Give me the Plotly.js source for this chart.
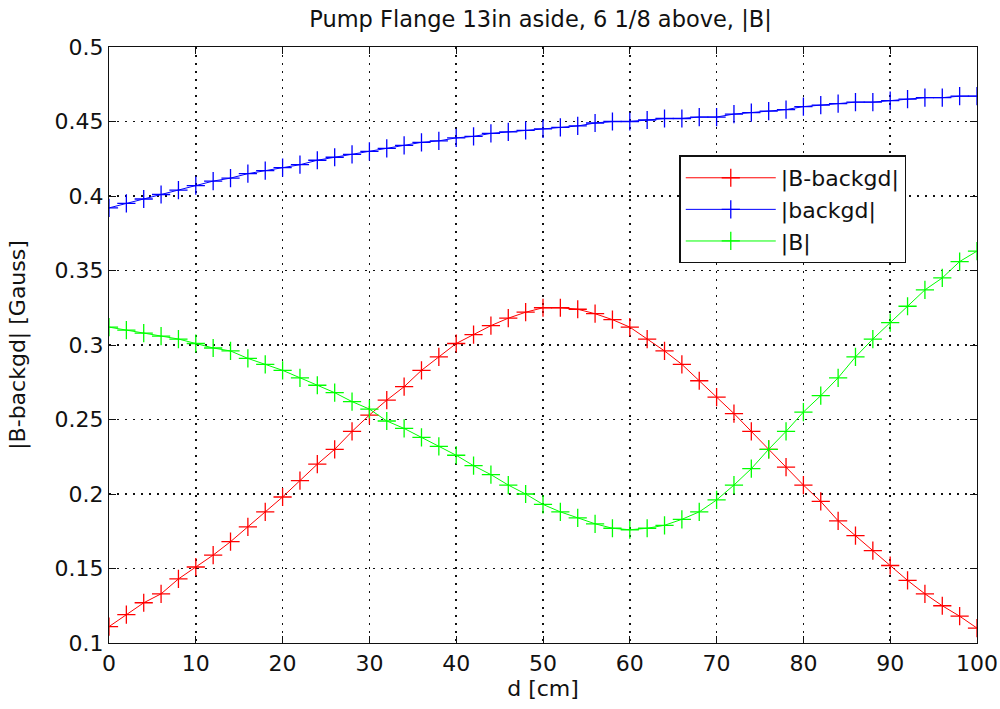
<!DOCTYPE html>
<html>
<head>
<meta charset="utf-8">
<script src="https://cdn.plot.ly/plotly-3.0.1.min.js"></script>
<style>html,body{margin:0;padding:0;background:#fff;}#chart{width:1000px;height:709px;}</style>
</head>
<body>
<div id="chart"></div>
<script>
const distanceCm = [0,2,4,6,8,10,12,14,16,18,20,22,24,26,28,30,32,34,36,38,40,42,44,46,48,50,52,54,56,58,60,62,64,66,68,70,72,74,76,78,80,82,84,86,88,90,92,94,96,98,100];
const bMinusBackgd = [0.111,0.119,0.127,0.133,0.143,0.151,0.159,0.168,0.178,0.188,0.198,0.209,0.220,0.230,0.242,0.253,0.263,0.272,0.283,0.292,0.301,0.307,0.313,0.318,0.322,0.325,0.325,0.324,0.321,0.317,0.312,0.304,0.296,0.287,0.276,0.265,0.254,0.242,0.230,0.218,0.206,0.195,0.182,0.172,0.162,0.152,0.142,0.133,0.125,0.118,0.110];
const backgd = [0.392,0.395,0.398,0.401,0.404,0.407,0.410,0.412,0.415,0.417,0.419,0.421,0.424,0.426,0.428,0.430,0.432,0.434,0.436,0.437,0.439,0.440,0.442,0.443,0.444,0.445,0.446,0.447,0.449,0.450,0.450,0.451,0.452,0.452,0.453,0.453,0.455,0.456,0.457,0.458,0.460,0.461,0.462,0.463,0.463,0.464,0.465,0.466,0.466,0.467,0.467];
const bTotal = [0.312,0.310,0.308,0.306,0.304,0.301,0.298,0.296,0.291,0.287,0.283,0.278,0.273,0.268,0.262,0.257,0.249,0.244,0.238,0.232,0.226,0.219,0.213,0.206,0.200,0.193,0.188,0.184,0.180,0.177,0.176,0.177,0.179,0.183,0.188,0.196,0.206,0.217,0.230,0.242,0.255,0.266,0.278,0.292,0.304,0.315,0.326,0.337,0.345,0.356,0.363];
const seriesNames = ['|B-backgd|','|backgd|','|B|'];
const seriesColors = ['#ff0000','#0000ff','#00ff00'];
const xTicks = [0,10,20,30,40,50,60,70,80,90,100];
const yTicks = [0.1,0.15,0.2,0.25,0.3,0.35,0.4,0.45,0.5];
const yTickText = ['0.1','0.15','0.2','0.25','0.3','0.35','0.4','0.45','0.5'];

const ys = [bMinusBackgd, backgd, bTotal];
const traces = ys.map((y,i)=>({
  x: distanceCm, y: y, type:'scatter', mode:'lines+markers', name: seriesNames[i],
  line:{color:seriesColors[i], width:1},
  marker:{symbol:'cross-thin', size:13, line:{color:seriesColors[i], width:1.3}}
}));

const FAM = 'DejaVu Sans, Liberation Sans, Arial, sans-serif';
const font = {family:FAM, size:22, color:'#111'};
const layout = {
  width:1000, height:709,
  margin:{l:109, r:23, t:47, b:66},
  paper_bgcolor:'#fff', plot_bgcolor:'#fff',
  font: font,
  title:{text:'Pump Flange 13in aside, 6 1/8 above, |B|', x:0.5405, xanchor:'center', y:0.973, yanchor:'middle', font:{family:FAM, size:22.5, color:'#111'}},
  showlegend:true,
  legend:{x:0.657, y:0.818, xanchor:'left', yanchor:'top', bgcolor:'#fff', bordercolor:'#111', borderwidth:1.5, font:{family:FAM, size:22, color:'#111'}, itemwidth:90, tracegroupgap:0},
  xaxis:{range:[0,100], tickvals:xTicks, ticks:'inside', ticklen:7, tickcolor:'#111', mirror:'ticks', showline:true, linecolor:'#111', linewidth:1.2,
    showgrid:true, gridcolor:'#111', griddash:'2px,6px', gridwidth:1.5, zeroline:false, tickfont:{family:FAM, size:22, color:'#111'},
    title:{text:'d [cm]', font:{family:FAM, size:22, color:'#111'}, standoff:4}},
  yaxis:{range:[0.1,0.5], tickvals:yTicks, ticktext:yTickText, ticks:'inside', ticklen:7, tickcolor:'#111', mirror:'ticks', showline:true, linecolor:'#111', linewidth:1.2,
    showgrid:true, gridcolor:'#111', griddash:'2px,6px', gridwidth:1.5, zeroline:false, tickfont:{family:FAM, size:22, color:'#111'},
    title:{text:'|B-backgd| [Gauss]', font:{family:FAM, size:22, color:'#111'}, standoff:22}}
};
Plotly.newPlot('chart', traces, layout, {displayModeBar:false, staticPlot:true});
</script>
</body>
</html>
